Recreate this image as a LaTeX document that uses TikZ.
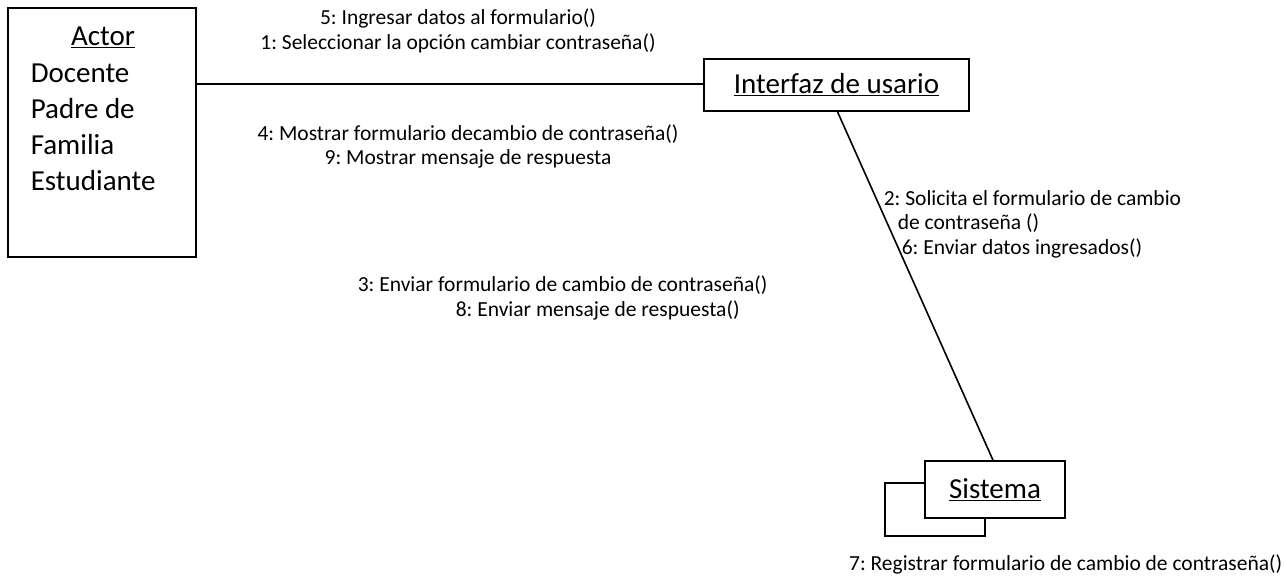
\documentclass[tikz,border=0pt]{standalone}
\usepackage{fontspec}
\setmainfont{Carlito}
\frenchspacing
\begin{document}
\begin{tikzpicture}[x=1pt, y=-1pt, line width=1.6pt,
	caja/.style={draw=black, fill=white, rectangle, inner sep=0pt},
	grande/.style={font=\fontsize{29}{36}\selectfont, inner sep=0pt},
	msj/.style={font=\fontsize{21.5}{25}\selectfont, inner sep=0pt}]
	\useasboundingbox (0,0) rectangle (1285,585);
	% Actor
	\node[caja, minimum width=188pt, minimum height=249pt] (actor) at (102, 132.5) {};
	\node[grande] (actortit) at (103, 37) {\underline{Actor}};
	\node[grande, anchor=west] (docente) at (30, 73) {Docente};
	\node[grande, anchor=west] (padre) at (30, 109) {Padre de};
	\node[grande, anchor=west] (familia) at (30, 145) {Familia};
	\node[grande, anchor=west] (estudiante) at (30, 181) {Estudiante};
	% Objetos
	\node[caja, grande, minimum width=265pt, minimum height=52pt] (interfaz) at (836.5, 85) {\underline{Interfaz de usario}};
	\node[caja, minimum width=100pt, minimum height=53pt] (sistemaatras) at (935, 509.5) {};
	\node[caja, grande, minimum width=140pt, minimum height=57pt] (sistema) at (995, 489.5) {\underline{Sistema}};
	% Enlaces
	\draw (actor.east |- 0,84) -- (interfaz.west |- 0,84);
	\draw ([xshift=1pt]interfaz.south) -- ([xshift=-2pt]sistema.north);
	% Mensajes
	\node[msj] (m5) at (458, 18) {5: Ingresar datos al formulario()};
	\node[msj] (m1) at (458, 43) {1: Seleccionar la opción cambiar contraseña()};
	\node[msj] (m4) at (468, 134) {4: Mostrar formulario decambio de contraseña()};
	\node[msj] (m9) at (468, 159) {9: Mostrar mensaje de respuesta};
	\node[msj, anchor=west] (m2) at (883, 198) {2: Solicita el formulario de cambio};
	\node[msj, anchor=west] (m2b) at (897, 223) {de contraseña ()};
	\node[msj, anchor=west] (m6) at (901, 248) {6: Enviar datos ingresados()};
	\node[msj, anchor=west] (m3) at (357, 285) {3: Enviar formulario de cambio de contraseña()};
	\node[msj, anchor=west] (m8) at (455, 310) {8: Enviar mensaje de respuesta()};
	\node[msj, anchor=east] (m7) at (1283, 564) {7: Registrar formulario de cambio de contraseña()};
\end{tikzpicture}
\end{document}
